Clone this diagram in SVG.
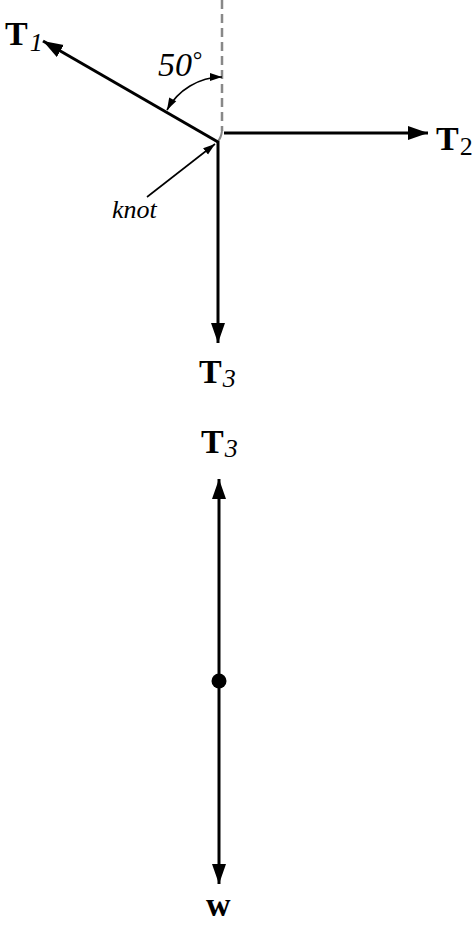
<svg xmlns="http://www.w3.org/2000/svg" width="475" height="925" viewBox="0 0 475 925">
<style>
.ln{stroke:#000;stroke-width:3;fill:none}
.thin{stroke:#000;stroke-width:1.6;fill:none}
.lb{font-family:"Liberation Serif","Times New Roman",serif;font-size:34px;font-weight:bold;fill:#000}
.sub{font-family:"Liberation Serif","Times New Roman",serif;font-size:26px;font-style:italic;font-weight:normal}
.subr{font-family:"Liberation Serif","Times New Roman",serif;font-size:26px;font-weight:normal}
.it{font-family:"Liberation Serif","Times New Roman",serif;font-style:italic;fill:#000}
</style>
<defs>
<marker id="ah" markerUnits="userSpaceOnUse" markerWidth="22" markerHeight="16" refX="20" refY="7" orient="auto">
<path d="M0,0 L20,7 L0,14 Z" fill="#000"/>
</marker>
<marker id="as" markerUnits="userSpaceOnUse" markerWidth="14" markerHeight="10" refX="12" refY="4" orient="auto">
<path d="M0,0 L12,4 L0,8 Z" fill="#000"/>
</marker>
<marker id="ass" markerUnits="userSpaceOnUse" markerWidth="14" markerHeight="10" refX="0" refY="4" orient="auto">
<path d="M12,0 L0,4 L12,8 Z" fill="#000"/>
</marker>
</defs>
<g id="connectors">
<line x1="222" y1="0" x2="222" y2="131" stroke="#888" stroke-width="2.5" stroke-dasharray="9,5"/>
<path d="M222,131 Q221,138 218,141" stroke="#888" stroke-width="2" fill="none"/>
<line class="ln" x1="218" y1="142" x2="43" y2="41" marker-end="url(#ah)"/>
<line class="ln" x1="224" y1="133" x2="428" y2="133" marker-end="url(#ah)"/>
<line class="ln" x1="218" y1="141" x2="218" y2="343" marker-end="url(#ah)"/>
<path class="thin" d="M167,110 A63,63 0 0 1 222,77" marker-start="url(#ass)" marker-end="url(#as)"/>
<line class="thin" x1="147" y1="197" x2="215" y2="144" marker-end="url(#as)"/>
<line class="ln" x1="219" y1="681" x2="219" y2="479" marker-end="url(#ah)"/>
<line class="ln" x1="219" y1="681" x2="219" y2="884" marker-end="url(#ah)"/>
</g>
<g id="knot-node">
<text class="it" x="112" y="218" font-size="26">knot</text>
</g>
<g id="angle-label">
<text class="it" x="158" y="76" font-size="34">50</text>
<text class="it" x="192" y="68" font-size="24" font-style="normal">°</text>
</g>
<g id="T1"><text class="lb" x="5" y="45">T<tspan class="sub" dx="2" dy="6">1</tspan></text></g>
<g id="T2"><text class="lb" x="436" y="150">T<tspan class="subr" dx="1" dy="5">2</tspan></text></g>
<g id="T3a"><text class="lb" x="199" y="383">T<tspan class="sub" dx="1" dy="4">3</tspan></text></g>
<g id="T3b"><text class="lb" x="201" y="453">T<tspan class="sub" dx="1" dy="4">3</tspan></text></g>
<g id="body"><circle cx="219" cy="681" r="7.5" fill="#000"/></g>
<g id="w"><text class="lb" x="206" y="916" font-size="32">w</text></g>
</svg>
